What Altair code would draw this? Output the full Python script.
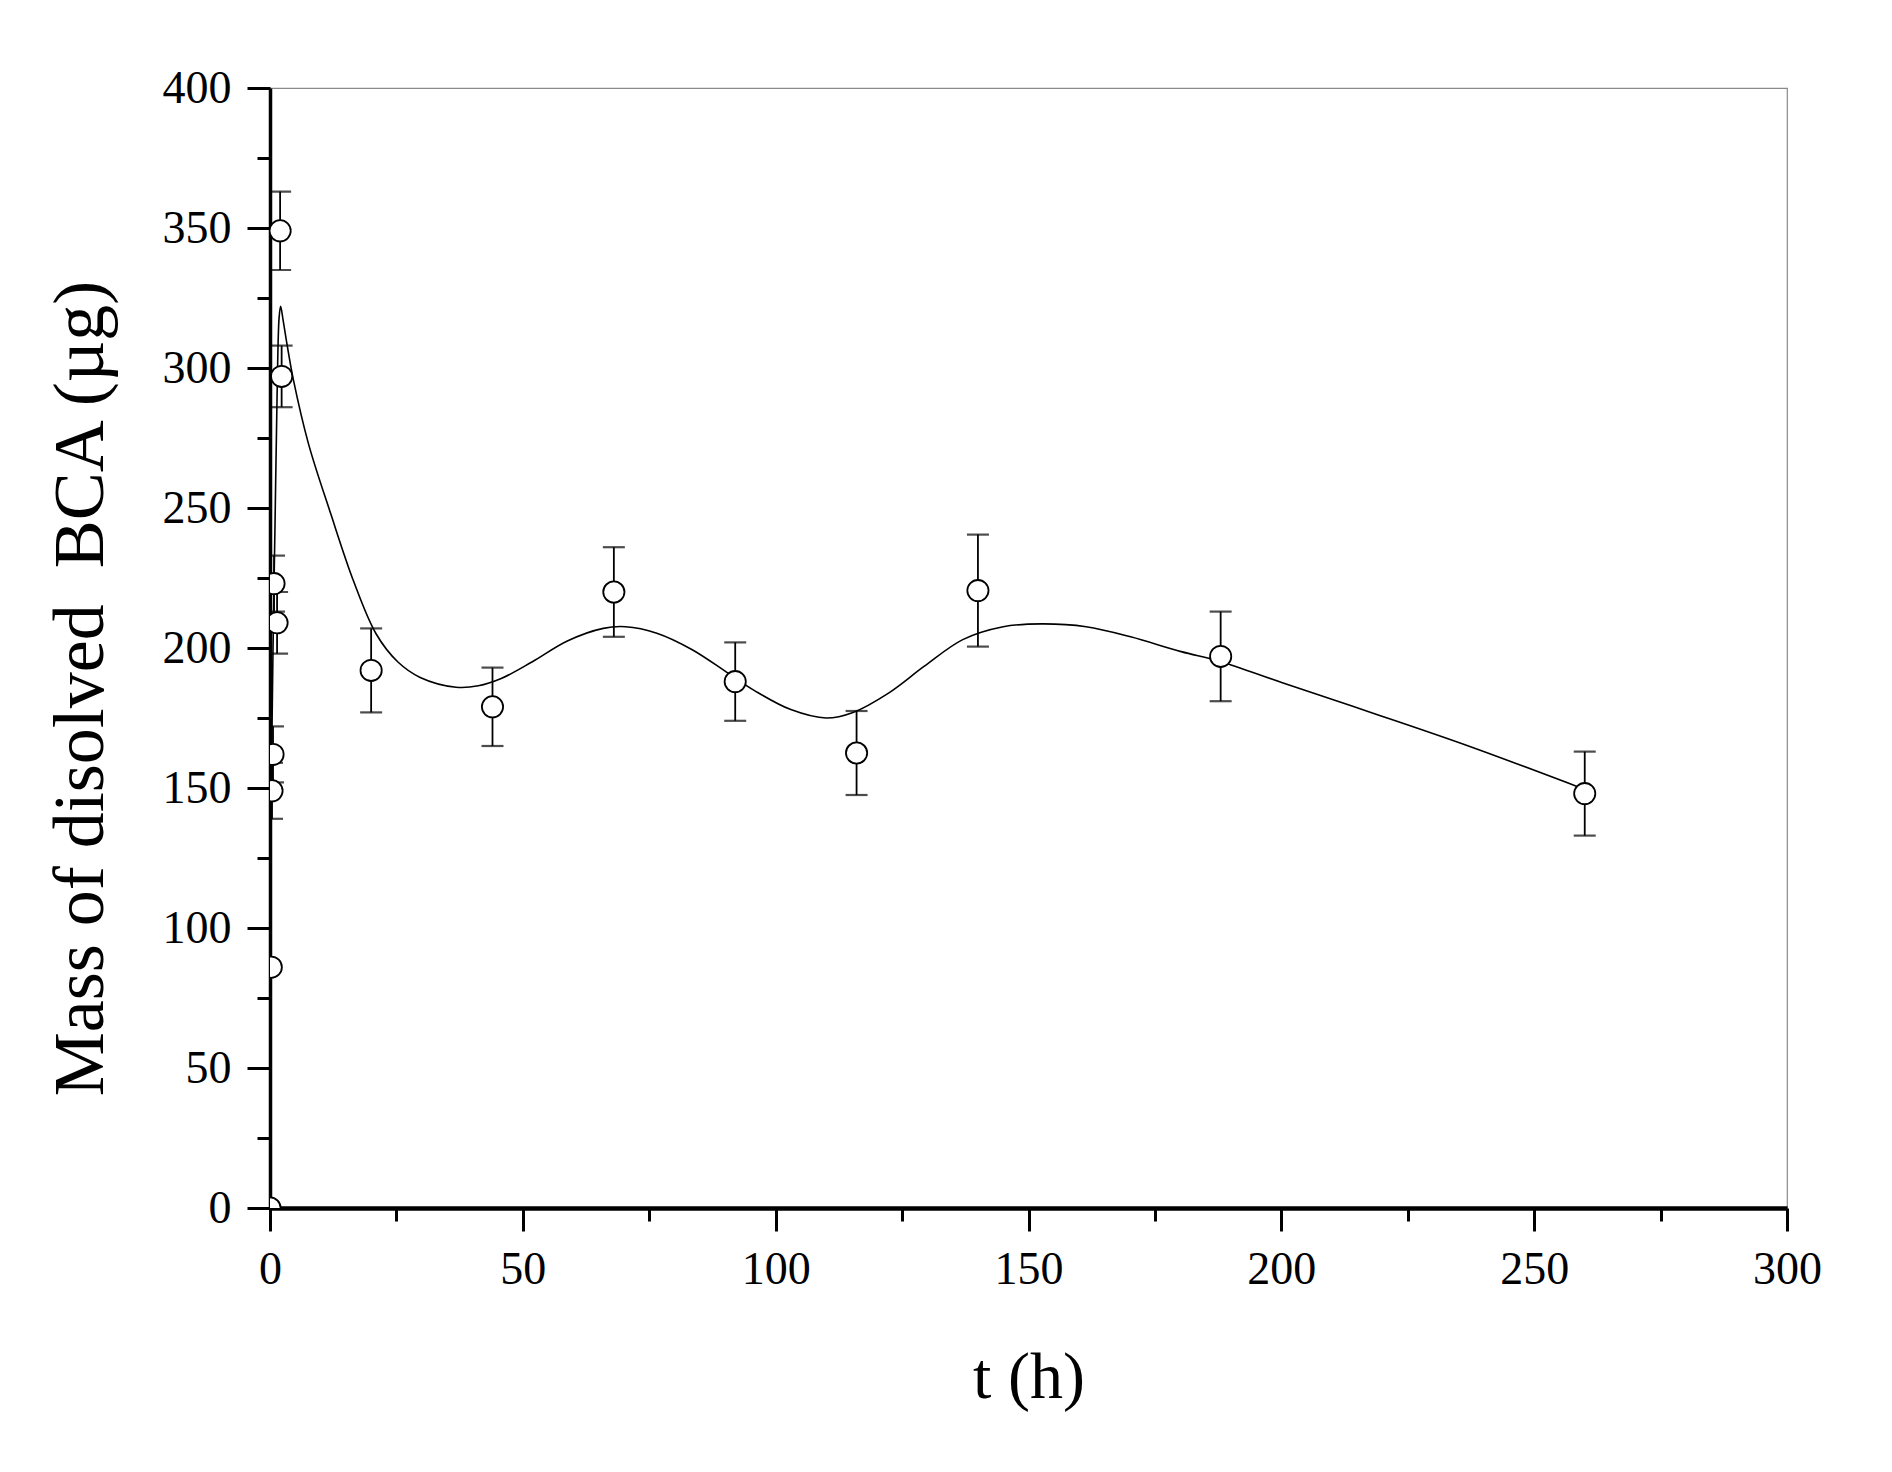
import altair as alt
import pandas as pd

# measured points (time in h, mass in µg, error half-width in µg)
t_h = [0, 0.25, 0.4, 0.6, 0.8, 1.4, 2.0, 2.3, 20, 44, 68, 92, 116, 140, 188, 260]
mass = [0, 86, 149, 162, 223, 209, 349, 297, 192, 179, 220, 188, 162.5, 220.5, 197, 148]
err = [0, 0, 10, 10, 10, 11, 14, 11, 15, 14, 16, 14, 15, 20, 16, 15]

# fitted curve
fit_t = [0, 0.6, 1.0, 1.4, 1.8, 2.1, 2.6, 3.5, 4.6, 7.6, 12, 16.5, 21, 25.3, 29.7,
         36.8, 41.2, 45.6, 51.8, 58.8, 65.9, 70.3, 76.5, 83.5, 90.6, 95.9, 103,
         110, 115.3, 122.4, 129.4, 137, 145, 152.6, 161.4, 170.2, 180.2, 187.9,
         200.5, 218, 237, 260]
fit_mass = [112, 200, 245, 290, 318, 322, 317, 307, 296, 273, 248, 224, 205, 195,
            189.5, 186, 186.5, 189, 195, 202.5, 207, 207.6, 205.3, 199.4, 191,
            184.7, 178, 175, 177, 184, 193.5, 203, 207.6, 208.6, 207.6, 204, 198.7,
            195.2, 187.4, 176.8, 165, 149.5]

x_ticks = list(range(0, 301, 25))
y_ticks = list(range(0, 401, 25))

pts = pd.DataFrame({"t": t_h, "m": mass, "e": err})
pts["lo"] = pts["m"] - pts["e"]
pts["hi"] = pts["m"] + pts["e"]
bars = pts[pts["e"] > 0]
fit = pd.DataFrame({"t": fit_t, "m": fit_mass})

FONT = "Liberation Serif"
X_TITLE = "t (h)"
Y_TITLE = "Mass of disolved\u00a0 BCA (\u00b5g)"
xscale = alt.Scale(domain=[0, 300], nice=False, zero=False)
yscale = alt.Scale(domain=[0, 400], nice=False)

x_axis = alt.Axis(
    values=x_ticks,
    labelExpr="datum.value % 50 === 0 ? datum.label : ''",
    tickSize={"condition": {"test": "datum.value % 50 === 0", "value": 23}, "value": 13},
    tickWidth=3, tickColor="black",
    domainWidth=4.5, domainColor="black",
    labelFont=FONT, labelFontSize=46, labelColor="black", labelPadding=16,
    labelOverlap=False, labelFlush=False,
    grid=False,
    titleFont=FONT, titleFontSize=66, titleFontWeight="normal",
    titleColor="black", titleBaseline="middle", titleY=169,
)
y_axis = alt.Axis(
    values=y_ticks,
    labelExpr="datum.value % 50 === 0 ? datum.label : ''",
    tickSize={"condition": {"test": "datum.value % 50 === 0", "value": 23}, "value": 13},
    tickWidth=3, tickColor="black",
    domainWidth=3.5, domainColor="black",
    labelFont=FONT, labelFontSize=46, labelColor="black", labelPadding=16,
    labelOverlap=False, labelFlush=False,
    grid=False,
    titleFont=FONT, titleFontSize=72,
    titleFontWeight="normal", titleColor="black", titleBaseline="middle",
    titleAlign="center", titleAngle=270, titleX=-190, titleY=600,
)

line = alt.Chart(fit).mark_line(color="black", strokeWidth=1.6, interpolate="catmull-rom", clip=True).encode(
    x=alt.X("t:Q", scale=xscale, axis=x_axis, title=X_TITLE),
    y=alt.Y("m:Q", scale=yscale, axis=y_axis, title=Y_TITLE),
)

ebar = alt.Chart(bars).mark_errorbar(
    color="black", thickness=1.8, ticks={"size": 22, "thickness": 2.2, "color": "black"}, clip=True
).encode(
    x=alt.X("t:Q", scale=xscale, title=X_TITLE),
    y=alt.Y("lo:Q", scale=yscale, title=Y_TITLE),
    y2="hi:Q",
)

circles = alt.Chart(pts).mark_circle(
    color="white", stroke="black", strokeWidth=1.8, size=450, opacity=1, clip=True
).encode(
    x=alt.X("t:Q", scale=xscale, title=X_TITLE),
    y=alt.Y("m:Q", scale=yscale, title=Y_TITLE),
)

chart = alt.layer(line, ebar, circles).properties(
    width=1517, height=1120,
    autosize=alt.AutoSizeParams(type="none"),
    padding={"left": 262, "top": 80, "right": 90, "bottom": 250},
    background="white",
).configure_view(stroke="#8a8a8a", strokeWidth=1.2)

chart.save("out.html", embed_options={"renderer": "svg", "actions": False})
